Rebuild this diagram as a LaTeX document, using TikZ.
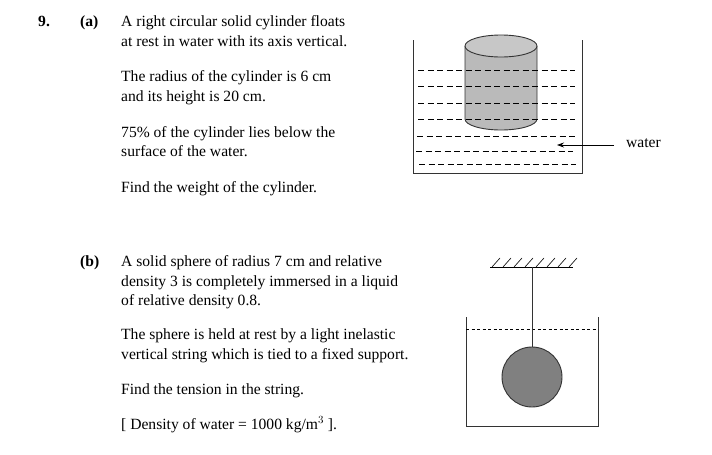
\documentclass[tikz,border=0pt]{standalone}
\usepackage{fontspec}
\setmainfont{Liberation Serif}
\usetikzlibrary{arrows.meta}
\begin{document}
\begin{tikzpicture}[x=1pt,y=-1pt,
  txt/.style={anchor=base west,inner sep=0pt,font=\fontsize{15.6}{20}\selectfont},
  bold/.style={txt,font=\fontsize{15.6}{20}\selectfont\bfseries},
  wall/.style={line width=0.9pt,draw=black!80},
  wl/.style={dashed,dash pattern=on 6pt off 3.5pt,line width=0.8pt}]
\useasboundingbox (0,0) rectangle (712,455);
\node[bold] (n9) at (38,26) {9.};
\node[bold] (pa) at (80,26) {(a)};
\node[txt] (a1) at (121,26) {A right circular solid cylinder floats};
\node[txt] (a2) at (121,46) {at rest in water with its axis vertical.};
\node[txt] (a3) at (121,81) {The radius of the cylinder is 6 cm};
\node[txt] (a4) at (121,101) {and its height is 20 cm.};
\node[txt] (a5) at (121,137) {75\% of the cylinder lies below the};
\node[txt] (a6) at (121,156) {surface of the water.};
\node[txt] (a7) at (121,192) {Find the weight of the cylinder.};
\node[bold] (pb) at (80,266) {(b)};
\node[txt] (b1) at (121,266) {A solid sphere of radius 7 cm and relative};
\node[txt] (b2) at (121,286) {density 3 is completely immersed in a liquid};
\node[txt] (b3) at (121,305) {of relative density 0.8.};
\node[txt] (b4) at (121,339) {The sphere is held at rest by a light inelastic};
\node[txt] (b5) at (121,359) {vertical string which is tied to a fixed support.};
\node[txt] (b6) at (121,394) {Find the tension in the string.};
\node[txt] (b7) at (121,429) {[ Density of water = 1000 kg/m$^3$ ].};
% part a
\fill[black!27] (465,46) -- (465,119) arc[start angle=180,end angle=0,x radius=36,y radius=11] -- (537,46) -- cycle;
\draw[wall] (465,46) -- (465,119) arc[start angle=180,end angle=0,x radius=36,y radius=11] -- (537,46);
\draw[wall,fill=black!22] (501,46) ellipse[x radius=36,y radius=11];
\foreach \yy/\xa/\xb in {70/418/575,86/418/575,103/418/575,119/418/575,136/417/575,151/416/573,164/419/576}
  \draw[wl] (\xa,\yy) -- (\xb,\yy);
\draw[wall] (413,40) -- (413,173) -- (582,173) -- (582,40);
\node[txt] (water) at (626,147) {water};
\coordinate (wa) at (557,145);
\draw[-{Stealth[length=7pt,width=5pt]},line width=0.8pt] (water.west|-wa) ++(-12,0) -- (wa);
% part b
\draw[wall] (466,317) -- (466,426) -- (598,426) -- (598,317);
\draw[dashed,dash pattern=on 3pt off 2.5pt,line width=0.7pt] (466,329) -- (598,329);
\coordinate (ceilL) at (490,267);
\coordinate (ceilR) at (573,267);
\draw[line width=0.8pt] (ceilL) -- (ceilR);
\foreach \i in {0,...,7} \draw[line width=0.6pt] (492+\i*11,267) -- (500+\i*11,258);
\node[circle,draw=black!80,line width=0.9pt,fill=black!50,minimum size=60pt,inner sep=0pt] (sph) at (532,377) {};
\draw[line width=0.9pt,black!80] (532,267) -- (sph.north);
\end{tikzpicture}
\end{document}
